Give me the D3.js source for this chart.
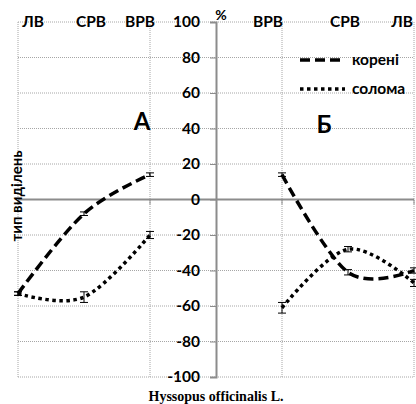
<!DOCTYPE html>
<html><head><meta charset="utf-8">
<script src="https://cdn.jsdelivr.net/npm/d3@7"></script>
<style>body{margin:0;background:#fff}svg{display:block}</style>
</head><body>
<svg id="c" width="416" height="404"></svg>
<script>
// x positions: left panel ЛВ,СРВ,ВРВ at -3,-2,-1 ; right panel ВРВ,СРВ,ЛВ at 1,2,3
const leftCats = ["ЛВ","СРВ","ВРВ"];
const rightCats = ["ВРВ","СРВ","ЛВ"];
const leftX = [-3,-2,-1];
const rightX = [1,2,3];
const leftRoots = [-53,-8,14];
const leftRootsErr = [1,1,1];
const leftStraw = [-53,-55,-20];
const leftStrawErr = [1,3,2];
const rightRoots = [14,-41,-40];
const rightRootsErr = [1,1.5,1.5];
const rightStraw = [-61,-28,-47];
const rightStrawErr = [3,1.5,2];
const yTicks = [-100,-80,-60,-40,-20,0,20,40,60,80,100];
const seriesNames = ["корені","солома"];

const svg = d3.select("#c");
const x = d3.scaleLinear().domain([-3,3]).range([18,414]);
const y = d3.scaleLinear().domain([-100,100]).range([377,22]);
const font = "Lato, 'Open Sans', sans-serif";

// horizontal grid
svg.append("g").selectAll("line").data(yTicks).join("line")
  .attr("x1",x(-3)).attr("x2",x(3)).attr("y1",d=>y(d)).attr("y2",d=>y(d))
  .attr("stroke","#a6a6a6").attr("stroke-width",1).attr("stroke-dasharray","1 1");
// vertical grid
svg.append("g").selectAll("line").data([-3,-1,1,3]).join("line")
  .attr("x1",d=>x(d)).attr("x2",d=>x(d)).attr("y1",y(100)).attr("y2",y(-100))
  .attr("stroke","#a6a6a6").attr("stroke-width",1).attr("stroke-dasharray","1 1");

// zero line
svg.append("line").attr("x1",x(-3)).attr("x2",x(3)).attr("y1",y(0)).attr("y2",y(0))
  .attr("stroke","#8c8c8c").attr("stroke-width",2);
svg.append("g").selectAll("line").data([-3,-1,1,3]).join("line")
  .attr("x1",d=>x(d)).attr("x2",d=>x(d)).attr("y1",y(0)).attr("y2",y(0)+5)
  .attr("stroke","#8c8c8c").attr("stroke-width",1);

// y axis
const ax = svg.append("g").attr("transform",`translate(${x(0)},0)`)
  .call(d3.axisLeft(y).tickValues(yTicks).tickSize(6).tickPadding(10).tickFormat(d=>d<0?"-"+Math.abs(d):d));
ax.select(".domain").attr("stroke","#8c8c8c").attr("stroke-width",2);
ax.selectAll(".tick line").attr("stroke","#8c8c8c").attr("stroke-width",1);
ax.selectAll(".tick text").attr("font-family",font).attr("font-weight","bold").attr("font-size",15.5).attr("fill","#000");

const line = d3.line().x(d=>x(d[0])).y(d=>y(d[1])).curve(d3.curveCardinal.tension(0));
function drawSeries(xs, ys, errs, dash){
  const pts = xs.map((v,i)=>[v,ys[i]]);
  svg.append("path").attr("d",line(pts)).attr("fill","none").attr("stroke","#000")
    .attr("stroke-width",3.5)
    .attr("stroke-dasharray",dash==="dash"?"10 5":"3.5 3.5");
  const g = svg.append("g").attr("stroke","#000").attr("stroke-width",1);
  pts.forEach((p,i)=>{
    const cx=x(p[0]), y1=y(p[1]+errs[i]), y2=y(p[1]-errs[i]);
    g.append("line").attr("x1",cx).attr("x2",cx).attr("y1",y1).attr("y2",y2);
    g.append("line").attr("x1",cx-4).attr("x2",cx+4).attr("y1",y1).attr("y2",y1);
    g.append("line").attr("x1",cx-4).attr("x2",cx+4).attr("y1",y2).attr("y2",y2);
  });
}
drawSeries(leftX,leftRoots,leftRootsErr,"dash");
drawSeries(leftX,leftStraw,leftStrawErr,"dot");
drawSeries(rightX,rightRoots,rightRootsErr,"dash");
drawSeries(rightX,rightStraw,rightStrawErr,"dot");

// category labels on top
const catPos = [33,91,140,268,345,402];
const cats = leftCats.concat(rightCats);
svg.append("g").selectAll("text").data(cats).join("text")
  .attr("x",(d,i)=>catPos[i]).attr("y",27).attr("text-anchor","middle")
  .attr("font-family",font).attr("font-weight","bold").attr("font-size",15.5).text(d=>d);

svg.append("text").attr("x",221).attr("y",20).attr("text-anchor","middle")
  .attr("font-family",font).attr("font-weight","bold").attr("font-size",14).text("%");

// panel letters
svg.append("text").attr("x",142).attr("y",130).attr("text-anchor","middle")
  .attr("font-family",font).attr("font-weight","bold").attr("font-size",24).text("А");
svg.append("text").attr("x",324).attr("y",133).attr("text-anchor","middle")
  .attr("font-family",font).attr("font-weight","bold").attr("font-size",24).text("Б");

// legend
const leg = [[60,"10 5"],[89,"3.5 3.5"]];
leg.forEach((l,i)=>{
  svg.append("line").attr("x1",300).attr("x2",345).attr("y1",l[0]).attr("y2",l[0])
    .attr("stroke","#000").attr("stroke-width",3.5).attr("stroke-dasharray",l[1]);
  svg.append("text").attr("x",352).attr("y",l[0]+5).attr("font-family",font)
    .attr("font-weight","bold").attr("font-size",15.5).text(seriesNames[i]);
});

// y title
svg.append("text").attr("transform","translate(22,196) rotate(-90)").attr("text-anchor","middle")
  .attr("font-family",font).attr("font-weight","bold").attr("font-size",15).text("тип виділень");

// x title
svg.append("text").attr("x",216).attr("y",401).attr("text-anchor","middle")
  .attr("font-family","'Liberation Serif', serif").attr("font-weight","bold").attr("font-size",14)
  .text("Hyssopus officinalis L.");
</script>
</body></html>
